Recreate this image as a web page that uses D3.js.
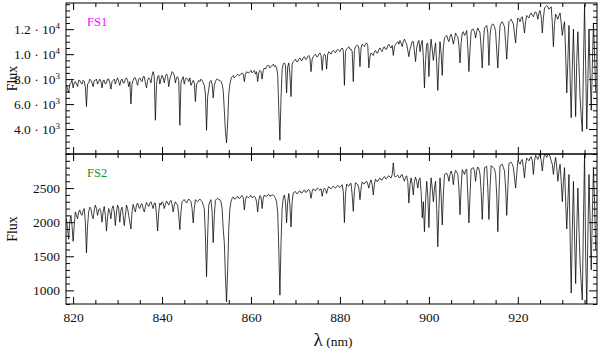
<!DOCTYPE html>
<html><head><meta charset="utf-8">
<script src="https://cdn.jsdelivr.net/npm/d3@7"></script>
<style>
body{margin:0;background:#fff}
svg{display:block}
text{font-family:"Liberation Serif","Times New Roman",Times,"DejaVu Serif",serif;fill:#111}
</style>
</head><body>
<svg id="chart" width="600" height="349"></svg>
<script>
// ---- data ----
const wavelength = [
818.5,818.75,819,819.25,819.5,819.75,820,820.25,820.5,820.75,821,821.25,821.5,821.75,822,822.25,822.5,822.75,823,823.25,
823.5,823.75,824,824.25,824.5,824.75,825,825.25,825.5,825.75,826,826.25,826.5,826.75,827,827.25,827.5,827.75,828,828.25,
828.5,828.75,829,829.25,829.5,829.75,830,830.25,830.5,830.75,831,831.25,831.5,831.75,832,832.25,832.5,832.75,833,833.25,
833.5,833.75,834,834.25,834.5,834.75,835,835.25,835.5,835.75,836,836.25,836.5,836.75,837,837.25,837.5,837.75,838,838.25,
838.5,838.75,839,839.25,839.5,839.75,840,840.25,840.5,840.75,841,841.25,841.5,841.75,842,842.25,842.5,842.75,843,843.25,
843.5,843.75,844,844.25,844.5,844.75,845,845.25,845.5,845.75,846,846.25,846.5,846.75,847,847.25,847.5,847.75,848,848.25,
848.5,848.75,849,849.25,849.5,849.75,850,850.25,850.5,850.75,851,851.25,851.5,851.75,852,852.25,852.5,852.75,853,853.25,
853.5,853.75,854,854.25,854.5,854.75,855,855.25,855.5,855.75,856,856.25,856.5,856.75,857,857.25,857.5,857.75,858,858.25,
858.5,858.75,859,859.25,859.5,859.75,860,860.25,860.5,860.75,861,861.25,861.5,861.75,862,862.25,862.5,862.75,863,863.25,
863.5,863.75,864,864.25,864.5,864.75,865,865.25,865.5,865.75,866,866.25,866.5,866.75,867,867.25,867.5,867.75,868,868.25,
868.5,868.75,869,869.25,869.5,869.75,870,870.25,870.5,870.75,871,871.25,871.5,871.75,872,872.25,872.5,872.75,873,873.25,
873.5,873.75,874,874.25,874.5,874.75,875,875.25,875.5,875.75,876,876.25,876.5,876.75,877,877.25,877.5,877.75,878,878.25,
878.5,878.75,879,879.25,879.5,879.75,880,880.25,880.5,880.75,881,881.25,881.5,881.75,882,882.25,882.5,882.75,883,883.25,
883.5,883.75,884,884.25,884.5,884.75,885,885.25,885.5,885.75,886,886.25,886.5,886.75,887,887.25,887.5,887.75,888,888.25,
888.5,888.75,889,889.25,889.5,889.75,890,890.25,890.5,890.75,891,891.25,891.5,891.75,892,892.25,892.5,892.75,893,893.25,
893.5,893.75,894,894.25,894.5,894.75,895,895.25,895.5,895.75,896,896.25,896.5,896.75,897,897.25,897.5,897.75,898,898.25,
898.5,898.75,899,899.25,899.5,899.75,900,900.25,900.5,900.75,901,901.25,901.5,901.75,902,902.25,902.5,902.75,903,903.25,
903.5,903.75,904,904.25,904.5,904.75,905,905.25,905.5,905.75,906,906.25,906.5,906.75,907,907.25,907.5,907.75,908,908.25,
908.5,908.75,909,909.25,909.5,909.75,910,910.25,910.5,910.75,911,911.25,911.5,911.75,912,912.25,912.5,912.75,913,913.25,
913.5,913.75,914,914.25,914.5,914.75,915,915.25,915.5,915.75,916,916.25,916.5,916.75,917,917.25,917.5,917.75,918,918.25,
918.5,918.75,919,919.25,919.5,919.75,920,920.25,920.5,920.75,921,921.25,921.5,921.75,922,922.25,922.5,922.75,923,923.25,
923.5,923.75,924,924.25,924.5,924.75,925,925.25,925.5,925.75,926,926.25,926.5,926.75,927,927.25,927.5,927.75,928,928.25,
928.5,928.75,929,929.25,929.5,929.75,930,930.25,930.5,930.75,931,931.25,931.5,931.75,932,932.25,932.5,932.75,933,933.25,
933.5,933.75,934,934.25,934.5,934.75,935,935.25,935.5,935.75,936,936.25,936.5,936.75,937,937.25,937.5
];
const fluxFS1 = [
7500,7200,6900,7600,7700,7900,7300,7700,7800,7600, 7400,7900,7900,7700,7600,7900,7800,7400,5800,7600,
7700,8000,7900,7700,7400,7900,7900,8000,7600,7800, 8000,7800,7300,7900,7900,7600,7700,8000,8000,7700,
7200,7800,7900,8000,7600,7900,8100,7800,7500,7900, 8000,7700,7700,8000,8100,7900,7400,7800,6000,7600,
7900,8100,8100,7800,7500,8000,8100,7900,7800,8200, 8200,7700,7300,7900,8100,8000,7700,8300,8600,8200,
4700,7600,8200,8300,7600,8000,8300,8100,7700,8200, 8400,8200,7400,8000,8300,8600,8500,8300,7700,8100,
8200,7900,4300,7700,8000,8200,7600,8000,8100,8000, 7800,8100,7500,7700,7900,7700,6200,7600,7700,7900,
7800,8000,7900,7700,7500,6800,3900,6600,7200,7800, 7900,7600,6500,7500,7800,8000,8000,7900,7900,7800,
7600,7100,5500,3800,2900,4500,6800,7600,8000,8200, 8300,8100,8200,8300,8400,8300,8300,8400,8500,8400,
7800,8400,8600,8500,8500,8600,8700,8500,8600,8700, 8400,8600,7800,8500,8700,8600,8000,8700,8900,8800,
9000,9100,9100,8900,9000,9100,9200,9000,9100,8900, 8400,5500,3100,6500,8800,9200,9300,9100,6900,9000,
9300,8400,6600,9200,9400,9500,9600,9400,9400,9600, 9700,9500,9500,9700,9800,9600,9600,9800,9900,9700,
8600,9600,9800,9900,10000,9800,9800,10000,10100,9900, 8700,9800,10000,9900,8800,10000,10200,10100,10000,10200,
10300,10200,10100,10300,10400,10300,10200,10400,10500,10300, 7500,10200,10400,10500,10600,10400,10400,10200,7800,10300,
10600,10700,10700,10500,9000,10500,10800,10700,10600,10800, 10900,10700,8900,9800,10100,10000,9900,10200,10300,10100,
10100,10400,10500,10300,10200,10500,10600,10400,10400,10700, 10800,10600,10500,10700,9900,10600,10800,10900,11000,10800,
11100,10900,10600,11000,11200,11000,10800,10300,9800,10400, 10700,11000,11000,10200,9400,10500,10900,11100,10200,10800,
11100,9800,7300,9500,10800,10900,8200,10200,11200,10400, 9500,10300,10900,9200,7100,9400,11000,10100,8300,10500,
11300,11400,11500,11200,11000,11400,11600,11300,10800,11200, 11700,11500,11400,10700,9300,10900,11700,11800,11500,11600,
11900,10500,8600,10400,11800,12000,12000,11800,11300,11800, 12100,11900,11700,10500,8900,11000,12100,12200,12300,11700,
9100,11500,12200,12400,12400,12200,11800,10300,8900,10800, 12300,12500,12600,12400,12200,11000,9600,11200,12600,12700,
12800,12600,12400,11600,10900,12100,12900,12800,12600,12900, 13000,12400,11700,12600,13100,13000,12900,13200,13300,13100,
13000,13300,13400,13200,12800,13300,13500,13000,11700,12900, 13700,13800,13900,13800,13600,13700,13800,12500,10600,12400,
13200,13000,12800,13100,13300,12500,11500,12200,12600,10000, 6900,9500,12300,8000,4900,9000,12000,8500,5000,9500,
11800,9000,6500,5000,3800,9000,14000,9000,4000,8000, 12000,8500,5500,9000,12500,10000,7000
];
const fluxFS2 = [
2050,1900,1750,2000,2100,1950,1720,1950,2150,2100, 2050,2150,2180,2120,2100,2170,2200,2000,1550,1950,
2150,2220,2200,2100,2050,2180,2250,2200,2100,2180, 2200,2150,2000,2150,2230,2100,1870,2080,2200,2150,
2050,2200,2240,2150,1950,2150,2250,2200,2000,2180, 2220,2100,1950,2100,2250,2200,2100,2000,1900,2150,
2260,2200,2150,2250,2280,2220,2200,2260,2270,2200, 2150,2230,2290,2260,2230,2280,2300,2250,2200,2280,
2280,2100,1870,2150,2280,2250,2300,2280,2200,2260, 2310,2280,2250,2300,2320,2260,2150,2250,2300,2270,
2250,2100,1890,2150,2300,2320,2330,2300,2280,2310, 2340,2320,2300,2200,1990,2200,2330,2310,2300,2320,
2340,2320,2300,2250,2200,1800,1200,1800,2250,2300, 2330,2150,1700,2100,2320,2340,2350,2330,2330,2300,
2200,1900,1700,1200,830,1300,1900,2200,2300,2350, 2370,2340,2340,2360,2380,2350,2350,2370,2390,2360,
2180,2330,2380,2370,2360,2380,2390,2360,2370,2380, 2360,2300,2150,2320,2390,2370,2200,2350,2400,2380,
2380,2400,2410,2380,2390,2400,2400,2380,2350,2300, 2150,1600,930,1700,2200,2350,2400,2300,1990,2300,
2420,2250,1930,2300,2430,2440,2450,2420,2420,2450, 2460,2430,2430,2460,2470,2440,2440,2470,2480,2450,
2350,2450,2490,2470,2460,2490,2500,2480,2470,2490, 2380,2460,2500,2480,2420,2490,2520,2500,2490,2510,
2530,2510,2500,2520,2540,2520,2510,2530,2550,2450, 1995,2400,2560,2540,2530,2560,2570,2400,2160,2450,
2580,2560,2550,2500,2330,2500,2590,2570,2560,2590, 2600,2560,2500,2580,2620,2550,2400,2560,2630,2600,
2600,2630,2650,2620,2620,2650,2670,2640,2640,2670, 2680,2660,2650,2700,2870,2680,2660,2680,2690,2660,
2650,2690,2700,2640,2600,2660,2680,2600,2280,2550, 2650,2550,2400,2600,2660,2600,2500,2620,2650,2450,
2065,2300,1860,2300,2600,2400,1920,2400,2650,2500, 2300,2500,2600,2200,1640,2200,2650,2400,1960,2400,
2700,2710,2720,2680,2600,2700,2750,2700,2550,2700, 2760,2740,2700,2500,2110,2500,2770,2740,2700,2760,
2780,2400,1990,2400,2780,2790,2800,2750,2600,2760, 2810,2780,2700,2450,2040,2450,2800,2810,2820,2500,
2040,2500,2830,2810,2800,2780,2700,2400,1860,2400, 2830,2840,2850,2800,2750,2500,2100,2500,2860,2870,
2880,2850,2800,2650,2500,2700,2900,2880,2850,2900, 2920,2800,2650,2850,2940,2920,2900,2940,2960,2900,
2700,2900,2980,2950,2920,2970,3000,2900,2750,2900, 3000,2980,2950,3000,3000,2960,2900,2850,2700,2850,
2950,2800,2600,2750,2850,2600,2300,2600,2800,2300, 1900,2300,2700,1800,960,1900,2600,1800,1100,1900,
2500,1900,1400,1100,860,2000,3000,1500,800,1800, 2700,2000,1300,2100,2800,2300,1600
];
const panelNames = ["FS1", "FS2"];
const xTicks = [820, 840, 860, 880, 900, 920];
const fs1Ticks = [4000, 6000, 8000, 10000, 12000];
const fs1TickMantissa = ["4.0", "6.0", "8.0", "1.0", "1.2"];
const fs1TickExponent = ["3", "3", "3", "4", "4"];
const fs2Ticks = [1000, 1500, 2000, 2500];
const yTitle = "Flux";
const xTitleSymbol = "λ";
const xTitleUnit = "(nm)";

// ---- layout ----
const FONT = '"Liberation Serif","Times New Roman",Times,"DejaVu Serif",serif';
const svg = d3.select("#chart");
const L = 66, R = 597;
const panels = [
  {top: 3, bottom: 154, domain: [2000, 14100], flux: fluxFS1, color: "#ff00ff",
   ticks: fs1Ticks, minorStep: 500, labelFn: (d, i) => [fs1TickMantissa[i], fs1TickExponent[i]]},
  {top: 154, bottom: 304, domain: [800, 3000], flux: fluxFS2, color: "#1e8f1e",
   ticks: fs2Ticks, minorStep: 100, labelFn: d => [String(d), null]}
];
const x = d3.scaleLinear().domain([818.4, 937.8]).range([L, R]);
const xMinor = d3.range(820, 937, 5).filter(v => v % 20 !== 0);

panels.forEach((p, pi) => {
  const y = d3.scaleLinear().domain(p.domain).range([p.bottom, p.top]);
  const g = svg.append("g");
  const cid = "clip" + pi;
  svg.append("clipPath").attr("id", cid).append("rect")
    .attr("x", L).attr("y", p.top).attr("width", R - L).attr("height", p.bottom - p.top);

  const n = Math.min(wavelength.length, p.flux.length);
  const data = wavelength.slice(0, n).map((w, i) => [w, p.flux[i]]);
  g.append("path").datum(data)
    .attr("clip-path", `url(#${cid})`)
    .attr("fill", "none").attr("stroke", "#000").attr("stroke-width", 0.75)
    .attr("d", d3.line().x(d => x(d[0])).y(d => y(d[1])));

  const yMinor = d3.range(Math.ceil(p.domain[0] / p.minorStep) * p.minorStep, p.domain[1], p.minorStep)
    .filter(v => !p.ticks.includes(v));

  function styleAxis(sel) {
    sel.attr("font-family", FONT);
    sel.select(".domain").remove();
    sel.selectAll("line").attr("stroke", "#000").attr("stroke-width", 1);
  }
  const left = g.append("g").attr("transform", `translate(${L},0)`)
    .call(d3.axisLeft(y).tickValues(p.ticks).tickSize(-8).tickPadding(6));
  styleAxis(left);
  left.selectAll("text").each(function(d, i) {
    const [m, e] = p.labelFn(d, i);
    const t = d3.select(this).text(null).attr("font-size", 13.5).attr("fill", "#111")
      .attr("font-family", FONT);
    if (e) {
      t.append("tspan").text(m + " · 10");
      t.append("tspan").attr("dy", -5).attr("font-size", 9).text(e);
    } else {
      t.text(m);
    }
  });
  g.append("g").attr("transform", `translate(${L},0)`)
    .call(d3.axisLeft(y).tickValues(yMinor).tickSize(-4).tickFormat("")).call(styleAxis);
  g.append("g").attr("transform", `translate(${R},0)`)
    .call(d3.axisRight(y).tickValues(p.ticks).tickSize(-8).tickFormat("")).call(styleAxis);
  g.append("g").attr("transform", `translate(${R},0)`)
    .call(d3.axisRight(y).tickValues(yMinor).tickSize(-4).tickFormat("")).call(styleAxis);
  g.append("g").attr("transform", `translate(0,${p.top})`)
    .call(d3.axisTop(x).tickValues(xTicks).tickSize(-7).tickFormat("")).call(styleAxis);
  g.append("g").attr("transform", `translate(0,${p.top})`)
    .call(d3.axisTop(x).tickValues(xMinor).tickSize(-4).tickFormat("")).call(styleAxis);
  const bottomAx = g.append("g").attr("transform", `translate(0,${p.bottom})`)
    .call(d3.axisBottom(x).tickValues(xTicks).tickSize(-7).tickPadding(8)
      .tickFormat(pi === 1 ? d3.format("d") : ""));
  styleAxis(bottomAx);
  bottomAx.selectAll("text").attr("font-size", 13.5).attr("fill", "#111").attr("font-family", FONT);
  g.append("g").attr("transform", `translate(0,${p.bottom})`)
    .call(d3.axisBottom(x).tickValues(xMinor).tickSize(-4).tickFormat("")).call(styleAxis);

  g.append("rect").attr("x", L).attr("y", p.top).attr("width", R - L).attr("height", p.bottom - p.top)
    .attr("fill", "none").attr("stroke", "#000").attr("stroke-width", 1);

  g.append("text").attr("x", 87).attr("y", p.top + 23).attr("font-size", 12.5)
    .attr("font-family", FONT).style("fill", p.color).text(panelNames[pi]);

  g.append("text").attr("transform", `translate(17,${(p.top + p.bottom) / 2}) rotate(-90)`)
    .attr("text-anchor", "middle").attr("font-size", 14).attr("font-family", FONT).text(yTitle);
});

const xt = svg.append("text").attr("x", 333).attr("y", 346).attr("text-anchor", "middle")
  .attr("font-family", FONT);
xt.append("tspan").attr("font-size", 19).text(xTitleSymbol);
xt.append("tspan").attr("font-size", 13.5).text(" " + xTitleUnit);
</script>
</body></html>
